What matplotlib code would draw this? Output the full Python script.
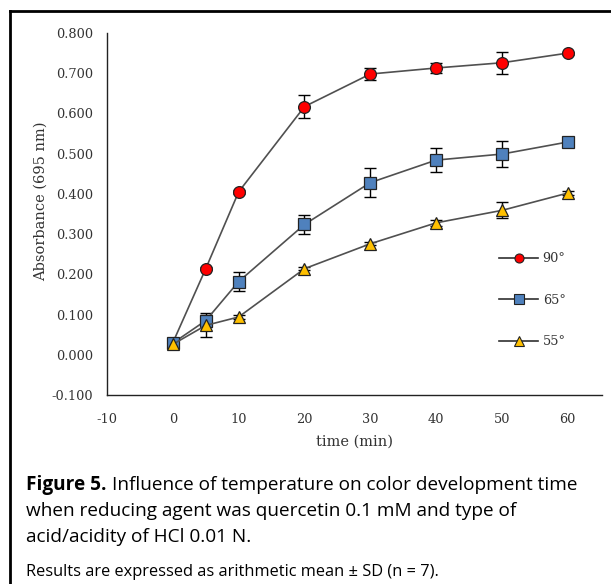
import matplotlib
matplotlib.use("Agg")
import matplotlib.pyplot as plt
from matplotlib.lines import Line2D

time = [0, 5, 10, 20, 30, 40, 50, 60]
abs_90 = [0.030, 0.214, 0.405, 0.617, 0.698, 0.713, 0.726, 0.750]
sd_90 = [0.003, 0.004, 0.005, 0.029, 0.016, 0.013, 0.028, 0.004]
abs_65 = [0.029, 0.085, 0.182, 0.324, 0.428, 0.484, 0.499, 0.529]
sd_65 = [0.003, 0.015, 0.024, 0.023, 0.036, 0.029, 0.032, 0.004]
abs_55 = [0.026, 0.073, 0.094, 0.214, 0.276, 0.328, 0.359, 0.402]
sd_55 = [0.002, 0.030, 0.004, 0.004, 0.004, 0.008, 0.020, 0.004]
labels = ["90°", "65°", "55°"]
xticks = [-10, 0, 10, 20, 30, 40, 50, 60]
yticks = [-0.1, 0.0, 0.1, 0.2, 0.3, 0.4, 0.5, 0.6, 0.7, 0.8]

W, H = 611, 584
fig = plt.figure(figsize=(W / 100, H / 100), dpi=100)
ax = fig.add_axes([107 / W, 1 - 395 / H, (602 - 107) / W, (395 - 33) / H])

serif = "DejaVu Serif"
series = [
    (abs_90, sd_90, "o", "#FF0000"),
    (abs_65, sd_65, "s", "#4F81BD"),
    (abs_55, sd_55, "^", "#FFC000"),
]
handles = []
for (vals, sd, mk, col), lab in zip(series, labels):
    ax.errorbar(time, vals, yerr=sd, fmt="none", ecolor="black", elinewidth=1.0,
                capsize=4, capthick=1.0, zorder=2)
    ax.plot(time, vals, color="#505050", lw=1.2, marker=mk, markersize=8.5,
            markerfacecolor=col, markeredgecolor="#222222", markeredgewidth=0.9, zorder=3)
    handles.append(Line2D([], [], color="#303030", lw=1.2, marker=mk, markersize=6.5,
                          markerfacecolor=col, markeredgecolor="#222222",
                          markeredgewidth=0.8, label=lab))

ax.set_xlim(-10, 65.2)
ax.set_ylim(-0.1, 0.8)
ax.set_xticks(xticks)
ax.set_yticks(yticks)
ax.set_xticklabels([str(t) for t in xticks])
ax.set_yticklabels([f"{v:.3f}" for v in yticks])
for s in ["top", "right"]:
    ax.spines[s].set_visible(False)
for s in ["left", "bottom"]:
    ax.spines[s].set_color("#222222")
    ax.spines[s].set_linewidth(1.0)
ax.tick_params(length=0, labelsize=9.3, colors="#333333", labelcolor="#333333")
ax.tick_params(axis="x", pad=13)
ax.tick_params(axis="y", pad=10)
for t in ax.get_xticklabels() + ax.get_yticklabels():
    t.set_family(serif)

ax.set_xlabel("time (min)", family=serif, fontsize=10.5, color="#333333", labelpad=6)
ax.set_ylabel("Absorbance (695 nm)", family=serif, fontsize=10.5, color="#333333")
ax.yaxis.set_label_coords(-0.119, 0.536)

leg = ax.legend(handles=handles, loc="upper left", bbox_to_anchor=(493 / W, 1 - 246 / H),
                bbox_transform=fig.transFigure, frameon=False, handlelength=3.0,
                handletextpad=0.35, labelspacing=2.2, borderpad=0,
                prop={"family": serif, "size": 9.3})
for t in leg.get_texts():
    t.set_color("#333333")

# frame lines (left and top)
fig.add_artist(Line2D([10 / W, 10 / W], [0, 1 - 11 / H], transform=fig.transFigure,
                      color="black", lw=2.0))
fig.add_artist(Line2D([10 / W, 1], [1 - 11 / H, 1 - 11 / H], transform=fig.transFigure,
                      color="black", lw=2.0))

cap_font = "Open Sans"
cap_size = 13.7
y1 = 1 - 490 / H
fig_lbl = fig.text(26 / W, y1, "Figure 5.", family=cap_font, fontweight="bold",
                   fontsize=cap_size, va="baseline")
fig.canvas.draw()
bb = fig_lbl.get_window_extent()
fig.text((bb.x1 + 5) / W, y1, "Influence of temperature on color development time",
         family=cap_font, fontsize=cap_size, va="baseline")
fig.text(26 / W, 1 - 516 / H, "when reducing agent was quercetin 0.1 mM and type of",
         family=cap_font, fontsize=cap_size, va="baseline")
fig.text(26 / W, 1 - 542 / H, "acid/acidity of HCl 0.01 N.", family=cap_font, fontsize=cap_size,
         va="baseline")
fig.text(26 / W, 1 - 576 / H, "Results are expressed as arithmetic mean ± SD (n = 7).",
         family=cap_font, fontsize=11.8, va="baseline")

fig.savefig("out.png", dpi=100)
